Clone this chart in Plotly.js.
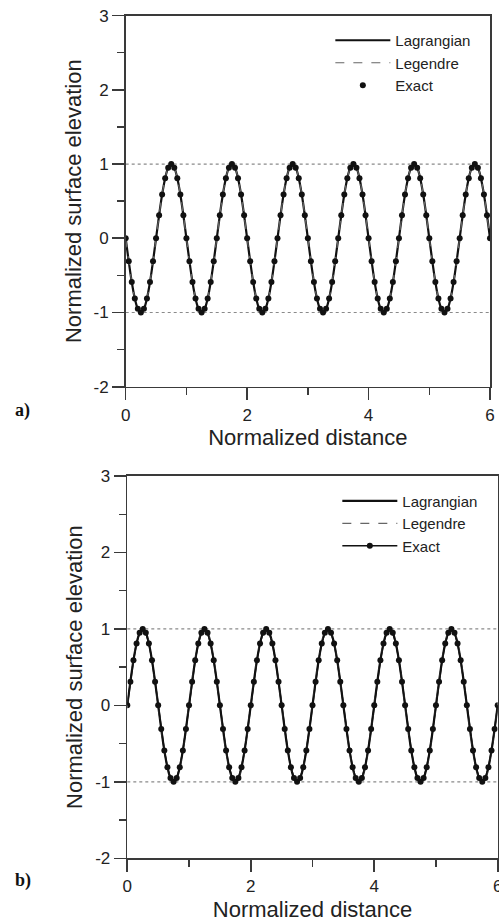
<!DOCTYPE html>
<html>
<head>
<meta charset="utf-8">
<script src="https://cdn.plot.ly/plotly-3.0.1.min.js"></script>
<style>html,body{margin:0;padding:0;background:#fff;}#chart{width:499px;height:923px;}</style>
</head>
<body>
<div id="chart"></div>
<script>
// Normalized distance (sample positions of the exact solution dots)
const xDist = [
0,0.05,0.1,0.15,0.2,0.25,0.3,0.35,0.4,0.45,0.5,0.55,0.6,0.65,0.7,0.75,0.8,0.85,0.9,0.95,
1,1.05,1.1,1.15,1.2,1.25,1.3,1.35,1.4,1.45,1.5,1.55,1.6,1.65,1.7,1.75,1.8,1.85,1.9,1.95,
2,2.05,2.1,2.15,2.2,2.25,2.3,2.35,2.4,2.45,2.5,2.55,2.6,2.65,2.7,2.75,2.8,2.85,2.9,2.95,
3,3.05,3.1,3.15,3.2,3.25,3.3,3.35,3.4,3.45,3.5,3.55,3.6,3.65,3.7,3.75,3.8,3.85,3.9,3.95,
4,4.05,4.1,4.15,4.2,4.25,4.3,4.35,4.4,4.45,4.5,4.55,4.6,4.65,4.7,4.75,4.8,4.85,4.9,4.95,
5,5.05,5.1,5.15,5.2,5.25,5.3,5.35,5.4,5.45,5.5,5.55,5.6,5.65,5.7,5.75,5.8,5.85,5.9,5.95,
6];

// Panel a) normalized surface elevation
const elevA = [
0,-0.31,-0.59,-0.81,-0.95,-1,-0.95,-0.81,-0.59,-0.31,0,0.31,0.59,0.81,0.95,1,0.95,0.81,0.59,0.31,
0,-0.31,-0.59,-0.81,-0.95,-1,-0.95,-0.81,-0.59,-0.31,0,0.31,0.59,0.81,0.95,1,0.95,0.81,0.59,0.31,
0,-0.31,-0.59,-0.81,-0.95,-1,-0.95,-0.81,-0.59,-0.31,0,0.31,0.59,0.81,0.95,1,0.95,0.81,0.59,0.31,
0,-0.31,-0.59,-0.81,-0.95,-1,-0.95,-0.81,-0.59,-0.31,0,0.31,0.59,0.81,0.95,1,0.95,0.81,0.59,0.31,
0,-0.31,-0.59,-0.81,-0.95,-1,-0.95,-0.81,-0.59,-0.31,0,0.31,0.59,0.81,0.95,1,0.95,0.81,0.59,0.31,
0,-0.31,-0.59,-0.81,-0.95,-1,-0.95,-0.81,-0.59,-0.31,0,0.31,0.59,0.81,0.95,1,0.95,0.81,0.59,0.31,
0];

// Panel b) normalized surface elevation
const elevB = [
0,0.31,0.59,0.81,0.95,1,0.95,0.81,0.59,0.31,0,-0.31,-0.59,-0.81,-0.95,-1,-0.95,-0.81,-0.59,-0.31,
0,0.31,0.59,0.81,0.95,1,0.95,0.81,0.59,0.31,0,-0.31,-0.59,-0.81,-0.95,-1,-0.95,-0.81,-0.59,-0.31,
0,0.31,0.59,0.81,0.95,1,0.95,0.81,0.59,0.31,0,-0.31,-0.59,-0.81,-0.95,-1,-0.95,-0.81,-0.59,-0.31,
0,0.31,0.59,0.81,0.95,1,0.95,0.81,0.59,0.31,0,-0.31,-0.59,-0.81,-0.95,-1,-0.95,-0.81,-0.59,-0.31,
0,0.31,0.59,0.81,0.95,1,0.95,0.81,0.59,0.31,0,-0.31,-0.59,-0.81,-0.95,-1,-0.95,-0.81,-0.59,-0.31,
0,0.31,0.59,0.81,0.95,1,0.95,0.81,0.59,0.31,0,-0.31,-0.59,-0.81,-0.95,-1,-0.95,-0.81,-0.59,-0.31,
0];

// Horizontal reference levels (dotted)
const refLevels = [1, -1];
const seriesNames = ['Lagrangian', 'Legendre', 'Exact'];
const xTickVals = [0, 2, 4, 6];
const xTickText = ['0', '2', '4', '6'];
const yTickVals = [-2, -1, 0, 1, 2, 3];
const yTickText = ['-2', '-1', '0', '1', '2', '3'];
const xTitle = 'Normalized distance';
const yTitle = 'Normalized surface elevation';
const panelLabels = ['a)', 'b)'];

const FONT = 'Arial, "Liberation Sans", sans-serif';
const INK = '#111';
const AX = '#3a3a3a';

function panelTraces(y, xa, ya, leg, exactMode) {
  return [
    {x: xDist, y: y, xaxis: xa, yaxis: ya, legend: leg, name: seriesNames[0],
     mode: 'lines', line: {color: INK, width: 2.2, shape: 'spline', smoothing: 1}},
    {x: xDist, y: y, xaxis: xa, yaxis: ya, legend: leg, name: seriesNames[1],
     mode: 'lines', line: {color: '#666', width: 1.2, dash: 'dash', shape: 'spline', smoothing: 1}},
    {x: xDist, y: y, xaxis: xa, yaxis: ya, legend: leg, name: seriesNames[2],
     mode: exactMode, marker: {color: INK, size: 6}, line: {color: INK, width: 1.5}}
  ];
}

const data = []
  .concat(panelTraces(elevA, 'x', 'y', 'legend', 'markers'))
  .concat(panelTraces(elevB, 'x2', 'y2', 'legend2', 'lines+markers'));

function xAxis(domain, anchor) {
  return {
    domain: domain, anchor: anchor, range: [0, 6],
    tickmode: 'array', tickvals: xTickVals, ticktext: xTickText,
    ticklabeloverflow: 'allow',
    showline: true, mirror: true, linecolor: AX, linewidth: 1.6,
    ticks: 'outside', ticklen: 12, tickwidth: 1.6, tickcolor: AX,
    minor: {tickmode: 'linear', tick0: 0, dtick: 1, ticks: 'outside', ticklen: 7, tickwidth: 1.4, tickcolor: AX},
    showgrid: false, zeroline: false, automargin: false,
    tickfont: {family: FONT, size: 17, color: '#222'},
    title: {text: xTitle, font: {family: FONT, size: 22, color: '#222'}, standoff: 6}
  };
}
function yAxis(domain, anchor) {
  return {
    domain: domain, anchor: anchor, range: [-2, 3],
    tickmode: 'array', tickvals: yTickVals, ticktext: yTickText,
    showline: true, mirror: true, linecolor: AX, linewidth: 1.6,
    ticks: 'outside', ticklen: 12, tickwidth: 1.6, tickcolor: AX,
    minor: {tickmode: 'linear', tick0: 0, dtick: 0.5, ticks: 'outside', ticklen: 7, tickwidth: 1.4, tickcolor: AX},
    showgrid: false, zeroline: false, automargin: false,
    tickfont: {family: FONT, size: 17, color: '#222'},
    title: {text: yTitle, font: {family: FONT, size: 22, color: '#222'}, standoff: 6}
  };
}

const shapes = [];
[['x', 'y'], ['x2', 'y2']].forEach(function (ax) {
  refLevels.forEach(function (lv) {
    shapes.push({type: 'line', xref: ax[0] + ' domain', yref: ax[1],
      x0: 0, x1: 1, y0: lv, y1: lv, layer: 'below',
      line: {color: '#8a8a8a', width: 1.2, dash: 'dot'}});
  });
});

const legendStyle = {
  bgcolor: 'rgba(0,0,0,0)', borderwidth: 0, xanchor: 'left', yanchor: 'top',
  itemwidth: 55, tracegroupgap: 0,
  font: {family: FONT, size: 15, color: '#222'}
};

const layout = {
  width: 499, height: 923,
  margin: {l: 0, r: 0, t: 0, b: 0},
  paper_bgcolor: '#fff', plot_bgcolor: '#fff',
  showlegend: true,
  xaxis: xAxis([0.2519, 0.982], 'y'),
  yaxis: yAxis([0.581, 0.9831], 'x'),
  xaxis2: xAxis([0.2551, 0.9974], 'y2'),
  yaxis2: yAxis([0.0701, 0.4843], 'x2'),
  legend: Object.assign({x: 0.662, y: 0.974}, legendStyle),
  legend2: Object.assign({x: 0.676, y: 0.475}, legendStyle),
  shapes: shapes,
  annotations: [
    {text: '<b>' + panelLabels[0] + '</b>', xref: 'paper', yref: 'paper', x: 0.026, y: 1 - 411 / 923,
     xanchor: 'left', yanchor: 'middle', showarrow: false,
     font: {family: '"Liberation Serif", "Times New Roman", serif', size: 18, color: '#111'}},
    {text: '<b>' + panelLabels[1] + '</b>', xref: 'paper', yref: 'paper', x: 0.026, y: 1 - 880 / 923,
     xanchor: 'left', yanchor: 'middle', showarrow: false,
     font: {family: '"Liberation Serif", "Times New Roman", serif', size: 18, color: '#111'}}
  ]
};

Plotly.newPlot('chart', data, layout, {staticPlot: true, displayModeBar: false});
</script>
</body>
</html>
